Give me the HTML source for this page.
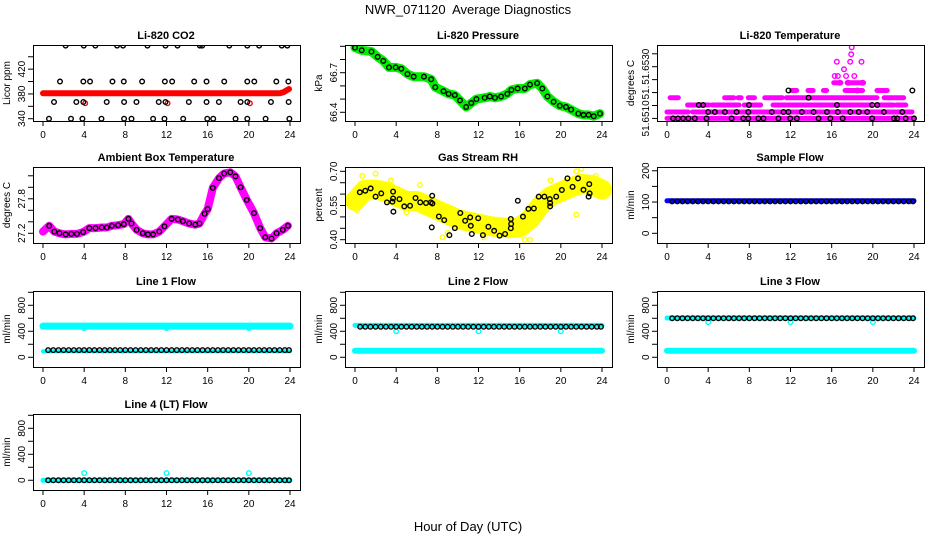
<!DOCTYPE html>
<html><head><meta charset="utf-8"><style>
html,body{margin:0;padding:0;background:#fff;}
svg{display:block;font-family:"Liberation Sans",sans-serif;}
</style></head><body>
<svg id="chart" width="936" height="540" viewBox="0 0 936 540">
<text x="468" y="14" text-anchor="middle" font-size="13" xml:space="preserve">NWR_071120  Average Diagnostics</text>
<text x="468" y="531" text-anchor="middle" font-size="13">Hour of Day (UTC)</text>
</svg>
<script>
// ---- data ----
const co2Hours=[2.2,3.96,5.09,7.2,7.78,10.15,11.9,13.07,15.24,15.47,18.1,19.85,21.0,23.2,23.74,
1.65,3.92,4.57,6.75,7.85,9.63,11.84,12.55,14.69,15.89,17.61,19.85,20.53,22.67,23.84,
1.07,3.24,3.92,6.19,7.88,9.08,11.25,11.9,14.17,15.89,17.09,19.2,19.85,22.15,23.87,
0.58,2.72,3.83,5.68,7.88,8.6,10.7,11.8,13.62,15.96,16.54,18.71,19.85,21.63,23.94];
const co2Vals=[458,458,458,458,458,458,458,458,458,458,458,458,458,458,458,
400,400,400,400,400,400,400,400,400,400,400,400,400,400,400,
367,367,367,367,367,367,367,367,367,367,367,367,367,367,367,
340,340,340,340,340,340,340,340,340,340,340,340,340,340,340];
const co2RedHours=[0,2,4,6,8,10,12,14,16,18,20,22,23,23.4,23.7,23.9];
const co2RedVals=[381,381,381,381,381,381,381,381,381,381,381,381,381,383,386,388];
const co2RedDipHours=[4.1,12.1,20.1];
const co2RedDipVals=[365,365,365];

const presHours=[0,0.65,1.6,2.2,2.75,3.3,3.95,4.5,5.1,5.7,6.7,7.4,7.8,8.6,9.1,9.7,10.2,10.8,11.3,11.8,12.6,13.1,13.6,14.2,14.8,15.2,15.8,16.5,17.0,17.7,18.2,18.7,19.3,19.9,20.5,21.0,21.7,22.2,22.7,23.2,23.8];
const presVals=[66.89,66.87,66.86,66.82,66.79,66.74,66.74,66.73,66.69,66.67,66.67,66.65,66.59,66.56,66.54,66.53,66.49,66.44,66.47,66.50,66.51,66.52,66.51,66.52,66.54,66.57,66.58,66.58,66.61,66.62,66.58,66.52,66.48,66.45,66.44,66.42,66.39,66.38,66.38,66.37,66.39];

const tempBlackHours=[0.59,1.07,1.56,2.08,2.7,3.84,6.28,7.41,7.9,8.88,9.37,10.83,11.97,12.62,14.73,15.87,17.07,19.93,22.05,22.37,23.19,24.0,
4.0,4.65,5.63,6.76,7.9,10.18,11.32,11.8,13.1,14.24,15.54,16.59,17.82,18.63,19.45,21.07,22.86,
3.09,3.51,7.97,16.52,19.93,20.42,13.76,11.8,23.84];
const tempBlackVals=[51.6510,51.6510,51.6510,51.6510,51.6510,51.6510,51.6510,51.6510,51.6510,51.6510,51.6510,51.6510,51.6510,51.6510,51.6510,51.6510,51.6510,51.6510,51.6510,51.6510,51.6510,51.6510,
51.65125,51.65125,51.65125,51.65125,51.65125,51.65125,51.65125,51.65125,51.65125,51.65125,51.65125,51.65125,51.65125,51.65125,51.65125,51.65125,51.65125,
51.65152,51.65152,51.65152,51.65152,51.65152,51.65152,51.6518,51.65208,51.65208];
const tempSegStart=[0,0,2.5,2.0,4.4,7.5,10.3,11.8,20.5,22.3,0.3,5.6,6.9,7.9,9.5,11.6,21.1,12.1,13.7,15.2,17.3,20.4,16.2,17.5];
const tempSegEnd=[24,2.05,23.8,4.1,7.0,9.1,11.6,19.8,22.0,23.2,1.1,6.5,7.2,8.5,11.2,20.4,23.0,12.6,14.2,15.5,19.0,21.4,16.9,19.1];
const tempSegVals=[51.6510,51.65125,51.65125,51.65152,51.65152,51.65152,51.65152,51.65152,51.65152,51.65152,51.6518,51.6518,51.6518,51.6518,51.6518,51.6518,51.6518,51.65208,51.65208,51.65208,51.65208,51.65208,51.65238,51.65238];
const tempPinkHours=[16.3,16.6,16.8,17.2,17.4,17.6,17.8,17.9,17.95,18.2,18.5,18.9,19.0,16.5];
const tempPinkVals=[51.65264,51.65264,51.65238,51.6529,51.65264,51.65238,51.65319,51.65348,51.65375,51.65264,51.65208,51.65319,51.65238,51.65319];

const ambHours=[0,0.6,1.1,1.6,2.2,2.75,3.3,3.9,4.5,5.1,5.7,6.2,6.7,7.3,7.85,8.3,8.6,9.1,9.7,10.2,10.7,11.3,11.8,12.5,13.1,13.6,14.2,14.8,15.2,15.7,16.0,16.5,17.1,17.6,18.2,18.7,19.2,19.8,20.5,21.1,21.6,22.2,22.7,23.3,23.8];
const ambVals=[27.23,27.33,27.23,27.2,27.18,27.19,27.19,27.22,27.29,27.29,27.3,27.3,27.33,27.34,27.36,27.45,27.37,27.26,27.2,27.18,27.18,27.23,27.32,27.45,27.44,27.41,27.37,27.35,27.37,27.54,27.62,27.99,28.16,28.24,28.26,28.19,28.0,27.78,27.55,27.29,27.13,27.11,27.2,27.26,27.33];

const rhHours=[0.47,1.0,1.52,2.0,2.55,3.1,3.64,3.7,3.7,3.73,4.32,4.79,5.35,5.88,6.34,6.9,7.37,7.52,7.5,7.46,8.15,8.67,9.17,9.7,10.23,10.7,11.19,11.25,11.35,11.97,12.43,12.96,13.52,14.05,14.58,15.14,15.17,15.14,15.82,16.32,16.85,17.38,17.85,18.4,18.93,18.96,18.96,19.55,20.1,20.64,21.14,21.67,22.2,22.76,22.7,22.8];
const rhVals=[0.608,0.615,0.625,0.589,0.603,0.564,0.567,0.611,0.581,0.523,0.578,0.546,0.549,0.583,0.564,0.561,0.564,0.559,0.593,0.454,0.502,0.486,0.42,0.451,0.517,0.483,0.498,0.461,0.425,0.494,0.42,0.457,0.439,0.418,0.425,0.491,0.469,0.45,0.571,0.501,0.535,0.537,0.589,0.589,0.578,0.561,0.546,0.589,0.618,0.669,0.632,0.669,0.619,0.644,0.589,0.603];
const rhBandHours=[0,1,2,3,4,5,6,7,8,9,10,11,12,13,14,15,16,17,18,19,20,21,22,23,24];
const rhBandVals=[0.57,0.62,0.62,0.61,0.59,0.57,0.57,0.55,0.53,0.51,0.49,0.48,0.47,0.46,0.455,0.45,0.455,0.49,0.55,0.59,0.61,0.63,0.645,0.64,0.62];
const rhYellowHours=[0.2,0.7,2.0,6.3,8.5,9.0,16.5,17.0,21.5,21.5,22.0,23.4,0.1,3.5,5.0,12.5,19.0];
const rhYellowVals=[0.53,0.68,0.69,0.64,0.41,0.43,0.40,0.40,0.51,0.70,0.71,0.68,0.55,0.66,0.52,0.41,0.66];

const flowX=[0.5,1,1.5,2,2.5,3,3.5,4,4.5,5,5.5,6,6.5,7,7.5,8,8.5,9,9.5,10,10.5,11,11.5,12,12.5,13,13.5,14,14.5,15,15.5,16,16.5,17,17.5,18,18.5,19,19.5,20,20.5,21,21.5,22,22.5,23,23.5,23.9];
const sampleBlack=[102,102,102,102,102,102,102,102,102,102,102,102,102,102,102,102,102,102,102,102,102,102,102,102,102,102,102,102,102,102,102,102,102,102,102,102,102,102,102,102,102,102,102,102,102,102,102,102];
const line1Black=[110,110,110,110,110,110,110,110,110,110,110,110,110,110,110,110,110,110,110,110,110,110,110,110,110,110,110,110,110,110,110,110,110,110,110,110,110,110,110,110,110,110,110,110,110,110,110,110];
const line2Black=[470,470,470,470,470,470,470,470,470,470,470,470,470,470,470,470,470,470,470,470,470,470,470,470,470,470,470,470,470,470,470,470,470,470,470,470,470,470,470,470,470,470,470,470,470,470,470,470];
const line3Black=[600,600,600,600,600,600,600,600,600,600,600,600,600,600,600,600,600,600,600,600,600,600,600,600,600,600,600,600,600,600,600,600,600,600,600,600,600,600,600,600,600,600,600,600,600,600,600,600];
const line4Black=[0,0,0,0,0,0,0,0,0,0,0,0,0,0,0,0,0,0,0,0,0,0,0,0,0,0,0,0,0,0,0,0,0,0,0,0,0,0,0,0,0,0,0,0,0,0,0,0];
const bandHours=[0,24];
const sampleBand=[104,104];
const line1BandHi=[480,480];
const line1BandLo=[92,92];
const line2BandHi=[490,490];
const line2BandLo=[100,100];
const line3BandHi=[605,605];
const line3BandLo=[100,100];
const line4Band=[0,0];
const dipHours=[4,12,20];
const line1Dips=[450,450,450];
const line2Dips=[400,400,400];
const line3Dips=[540,540,540];
const line4Dips=[110,110,110];
const xTicks=[0,4,8,12,16,20,24];

// ---- drawing ----
const svg=document.getElementById('chart');
const NS='http://www.w3.org/2000/svg';
const rowTops=[45,167,291,414];
const BH=76;
function mk(tag,attrs,parent){const e=document.createElementNS(NS,tag);for(const k in attrs)e.setAttribute(k,attrs[k]);(parent||svg).appendChild(e);return e;}

function panel(col,row,title,ylab,ylim,yticks,ylabels,slug){
  const off=col*312, top=rowTops[row];
  const g=mk('g',{});
  
  
  const X=h=>off+43+h*247/24;
  const Y=v=>top+BH*(ylim[1]-v)/(ylim[1]-ylim[0]);
  const t=mk('text',{x:off+166,y:top-6,'text-anchor':'middle','font-size':'11','font-weight':'bold'},g);
  t.textContent=title;
  
  
  const yl=mk('text',{x:0,y:0,'text-anchor':'middle','font-size':'10',transform:`translate(${off+10},${top+BH/2}) rotate(-90)`},g);
  yl.textContent=ylab;
  
  
  const box=mk('rect',{x:off+33.5,y:top+0.5,width:267,height:BH,fill:'none',stroke:'#000','stroke-width':1},g);
  
  
  mk('line',{x1:X(0),x2:X(24),y1:top+BH+0.5,y2:top+BH+0.5,stroke:'#000'},g);
  xTicks.forEach(h=>{
    mk('line',{x1:X(h),x2:X(h),y1:top+BH,y2:top+BH+5,stroke:'#000'},g);
    const tl=mk('text',{x:X(h),y:top+BH+17,'text-anchor':'middle','font-size':'10'},g);
    tl.textContent=h;
    
    
  });
  mk('line',{x1:off+33.5,x2:off+33.5,y1:Y(yticks[0]),y2:Y(yticks[yticks.length-1]),stroke:'#000'},g);
  yticks.forEach(v=>mk('line',{x1:off+28,x2:off+33.5,y1:Y(v),y2:Y(v),stroke:'#000'},g));
  ylabels.forEach(([v,s])=>{
    const tl=mk('text',{x:0,y:0,'text-anchor':'middle','font-size':'10',transform:`translate(${off+25},${Y(v)}) rotate(-90)`},g);
    tl.textContent=s;
    
    
  });
  const clip='c'+slug;
  const cp=mk('clipPath',{id:clip},g);mk('rect',{x:off+34,y:top+1,width:266,height:BH-1},cp);
  const pg=mk('g',{'clip-path':`url(#${clip})`},g);
  return {
    band(hs,vs,color,w,name){const d=hs.map((h,i)=>(i?'L':'M')+X(h).toFixed(1)+' '+Y(vs[i]).toFixed(1)).join('');
      const p=mk('path',{d,fill:'none',stroke:color,'stroke-width':w,'stroke-linejoin':'round','stroke-linecap':'round'},pg);
      
      },
    pts(hs,vs,color,name){hs.forEach((h,i)=>{const c=mk('circle',{cx:X(h),cy:Y(vs[i]),r:2.3,fill:'none',stroke:color,'stroke-width':1.4},pg);
      
      });},
    segs(s,e,vs,color,w,name){s.forEach((a,i)=>{const l=mk('line',{x1:X(a),x2:X(e[i]),y1:Y(vs[i]),y2:Y(vs[i]),stroke:color,'stroke-width':w,'stroke-linecap':'round'},pg);
      
      });}
  };
}
const flowLim=[-150,1020],flowTicks=[0,200,400,600,800,1000],flowLabels=[[0,'0'],[400,'400'],[800,'800']];

let p=panel(0,0,'Li-820 CO2','Licor ppm',[336.3,459],[340,360,380,400,420,440],[[340,'340'],[380,'380'],[420,'420']],'co2');
p.band(co2RedHours,co2RedVals,'#ff0000',6,'co2-red-band');
p.pts(co2RedDipHours,co2RedDipVals,'#ff0000','co2-red-point');
p.pts(co2Hours,co2Vals,'#000','co2-avg-point');

p=panel(1,0,'Li-820 Pressure','kPa',[66.334,66.91],[66.4,66.5,66.6,66.7,66.8,66.9],[[66.4,'66.4'],[66.7,'66.7']],'pressure');
p.band(presHours,presVals,'#00ee00',9,'pressure-green-band');
p.pts(presHours,presVals,'#000','pressure-avg-point');

p=panel(2,0,'Li-820 Temperature','degrees C',[51.6509,51.65384],[51.6510,51.6515,51.6520,51.6525,51.6530,51.6535],[[51.6510,'51.6510'],[51.6520,'51.'],[51.6530,'51.6530']],'temperature');
p.segs(tempSegStart,tempSegEnd,tempSegVals,'#ff00ff',5,'temperature-magenta-run');
p.pts(tempPinkHours,tempPinkVals,'#ff00ff','temperature-magenta-point');
p.pts(tempBlackHours,tempBlackVals,'#000','temperature-avg-point');

p=panel(0,1,'Ambient Box Temperature','degrees C',[27.031,28.353],[27.2,27.4,27.6,27.8,28.0,28.2],[[27.2,'27.2'],[27.8,'27.8']],'ambient');
p.band(ambHours,ambVals,'#ff00ff',8,'ambient-magenta-band');
p.pts(ambHours.slice(1),ambVals.slice(1),'#000','ambient-avg-point');

p=panel(1,1,'Gas Stream RH','percent',[0.3855,0.719],[0.40,0.45,0.50,0.55,0.60,0.65,0.70],[[0.40,'0.40'],[0.55,'0.55'],[0.70,'0.70']],'rh');
p.band(rhBandHours,rhBandVals,'#ffff00',20,'rh-yellow-band');
p.pts(rhYellowHours,rhYellowVals,'#ffff00','rh-yellow-point');
p.pts(rhHours,rhVals,'#000','rh-avg-point');

p=panel(2,1,'Sample Flow','ml/min',[-31,212],[0,50,100,150,200],[[0,'0'],[100,'100'],[200,'200']],'sample-flow');
p.band(bandHours,sampleBand,'#0000ff',5,'sample-flow-blue-band');
p.pts(flowX,sampleBlack,'#000','sample-flow-avg-point');

p=panel(0,2,'Line 1 Flow','ml/min',flowLim,flowTicks,flowLabels,'line1');
p.band(bandHours,line1BandHi,'#00ffff',7,'line1-cyan-band-high');
p.band(bandHours,line1BandLo,'#00ffff',4,'line1-cyan-band-low');
p.pts(dipHours,line1Dips,'#00ffff','line1-cyan-point');
p.pts(flowX,line1Black,'#000','line1-avg-point');

p=panel(1,2,'Line 2 Flow','ml/min',flowLim,flowTicks,flowLabels,'line2');
p.band(bandHours,line2BandHi,'#00ffff',5,'line2-cyan-band-high');
p.band(bandHours,line2BandLo,'#00ffff',6,'line2-cyan-band-low');
p.pts(dipHours,line2Dips,'#00ffff','line2-cyan-point');
p.pts(flowX,line2Black,'#000','line2-avg-point');

p=panel(2,2,'Line 3 Flow','ml/min',flowLim,flowTicks,flowLabels,'line3');
p.band(bandHours,line3BandHi,'#00ffff',5,'line3-cyan-band-high');
p.band(bandHours,line3BandLo,'#00ffff',6,'line3-cyan-band-low');
p.pts(dipHours,line3Dips,'#00ffff','line3-cyan-point');
p.pts(flowX,line3Black,'#000','line3-avg-point');

p=panel(0,3,'Line 4 (LT) Flow','ml/min',flowLim,flowTicks,flowLabels,'line4');
p.band(bandHours,line4Band,'#00ffff',5,'line4-cyan-band');
p.pts(dipHours,line4Dips,'#00ffff','line4-cyan-point');
p.pts(flowX,line4Black,'#000','line4-avg-point');
</script>
</body></html>
